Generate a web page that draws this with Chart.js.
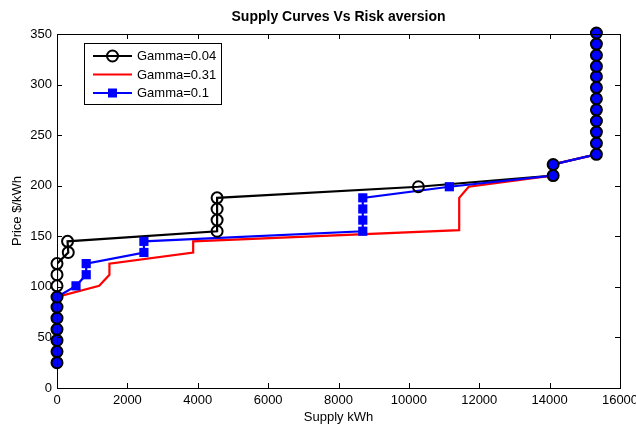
<!DOCTYPE html>
<html>
<head>
<meta charset="utf-8">
<script src="https://cdn.jsdelivr.net/npm/chart.js@4.4.0/dist/chart.umd.min.js"></script>
<style>
  html, body { margin: 0; padding: 0; background: #fff; }
</style>
</head>
<body>
<canvas id="chart" width="636" height="426"></canvas>
<script>
// data
const seriesNames = ['Gamma=0.04', 'Gamma=0.31', 'Gamma=0.1'];

const blackX = [0, 0, 0, 0, 0, 0, 0, 0, 0, 0, 320, 300, 4550, 4550, 4550, 4550, 10270, 14100, 14100,
  15330, 15330, 15330, 15330, 15330, 15330, 15330, 15330, 15330, 15330, 15330, 15330];
const blackY = [25, 36, 47, 58, 69, 80, 90, 101, 112, 123, 134, 145, 155, 166, 177, 188, 199, 210, 221,
  231, 242, 253, 264, 275, 286, 297, 308, 318, 329, 340, 351];

const redX = [0, 0, 0, 0, 0, 0, 0, 1200, 1490, 1490, 3870, 3870, 11430, 11430, 11700, 14100, 14100,
  15330, 15330, 15330, 15330, 15330, 15330, 15330, 15330, 15330, 15330, 15330, 15330];
const redY = [25, 36, 47, 58, 69, 80, 90, 101, 112, 123, 134, 145, 156, 188, 199, 210, 221,
  231, 242, 253, 264, 275, 286, 297, 308, 318, 329, 340, 351];

const blueX = [0, 0, 0, 0, 0, 0, 0, 540, 830, 830, 2470, 2470, 8690, 8690, 8690, 8690, 11150, 14100, 14100,
  15330, 15330, 15330, 15330, 15330, 15330, 15330, 15330, 15330, 15330, 15330, 15330];
const blueY = [25, 36, 47, 58, 69, 80, 90, 101, 112, 123, 134, 145, 155, 166, 177, 188, 199, 210, 221,
  231, 242, 253, 264, 275, 286, 297, 308, 318, 329, 340, 351];

const xTicks = [0, 2000, 4000, 6000, 8000, 10000, 12000, 14000, 16000];
const yTicks = [0, 50, 100, 150, 200, 250, 300, 350];

const FONT = "'Liberation Sans', Arial, Helvetica, sans-serif";

const toPts = (xs, ys) => xs.map((x, i) => ({ x: x, y: ys[i] }));
const inSet = (x, y, xs, ys) => xs.some((v, i) => v === x && ys[i] === y);

// black markers that sit on blue points get a blue face
const blackFace = blackX.map((x, i) => inSet(x, blackY[i], blueX, blueY) ? '#0000ff' : 'rgba(0,0,0,0)');
const blueRadius = blueX.map((x, i) => inSet(x, blueY[i], blackX, blackY) ? 0 : 6.5);

const framePlugin = {
  id: 'frame',
  afterDraw(chart) {
    const ctx = chart.ctx;
    const a = chart.chartArea;
    const xs = chart.scales.x, ys = chart.scales.y;
    ctx.save();
    ctx.strokeStyle = '#000';
    ctx.lineWidth = 1;
    ctx.strokeRect(Math.round(a.left) + 0.5, Math.round(a.top) + 0.5,
      Math.round(a.right - a.left), Math.round(a.bottom - a.top));
    ctx.beginPath();
    xTicks.forEach(v => {
      const px = Math.round(xs.getPixelForValue(v)) + 0.5;
      ctx.moveTo(px, a.bottom); ctx.lineTo(px, a.bottom - 5);
      ctx.moveTo(px, a.top); ctx.lineTo(px, a.top + 5);
    });
    yTicks.forEach(v => {
      const py = Math.round(ys.getPixelForValue(v)) + 0.5;
      ctx.moveTo(a.left, py); ctx.lineTo(a.left + 5, py);
      ctx.moveTo(a.right, py); ctx.lineTo(a.right - 5, py);
    });
    ctx.stroke();

    // title
    ctx.fillStyle = '#000';
    ctx.font = 'bold 14px ' + FONT;
    ctx.textAlign = 'center';
    ctx.textBaseline = 'middle';
    ctx.fillText('Supply Curves Vs Risk aversion', (a.left + a.right) / 2, 17);

    // legend
    const lx = 84, ly = 43, lw = 137, lh = 61;
    ctx.fillStyle = '#fff';
    ctx.fillRect(lx, ly, lw, lh);
    ctx.strokeStyle = '#000';
    ctx.strokeRect(lx + 0.5, ly + 0.5, lw, lh);
    const colors = ['#000000', '#ff0000', '#0000ff'];
    const rows = [56, 74.5, 93];
    ctx.font = '13px ' + FONT;
    ctx.textAlign = 'left';
    rows.forEach((y, i) => {
      ctx.strokeStyle = colors[i];
      ctx.lineWidth = 2.2;
      ctx.beginPath();
      ctx.moveTo(93, y); ctx.lineTo(132, y);
      ctx.stroke();
      if (i === 0) {
        ctx.lineWidth = 2;
        ctx.beginPath();
        ctx.arc(112.5, y, 5.5, 0, Math.PI * 2);
        ctx.stroke();
      } else if (i === 2) {
        ctx.fillStyle = colors[i];
        ctx.fillRect(112.5 - 4.5, y - 4.5, 9, 9);
      }
      ctx.fillStyle = '#000';
      ctx.fillText(seriesNames[i], 137, y + 0.5);
    });
    ctx.restore();
  }
};

new Chart(document.getElementById('chart'), {
  type: 'line',
  data: {
    datasets: [
      {
        label: seriesNames[0] + ' markers',
        data: toPts(blackX, blackY),
        showLine: false,
        pointStyle: 'circle',
        pointRadius: 5.5,
        pointBorderWidth: 2,
        pointBorderColor: '#000',
        pointBackgroundColor: blackFace,
        clip: false,
        order: 0
      },
      {
        label: seriesNames[2],
        data: toPts(blueX, blueY),
        borderColor: '#0000ff',
        borderWidth: 2.2,
        pointStyle: 'rect',
        pointRadius: blueRadius,
        pointBorderWidth: 0,
        pointBackgroundColor: '#0000ff',
        clip: false,
        order: 1
      },
      {
        label: seriesNames[1],
        data: toPts(redX, redY),
        borderColor: '#ff0000',
        borderWidth: 2.2,
        pointRadius: 0,
        order: 2
      },
      {
        label: seriesNames[0],
        data: toPts(blackX, blackY),
        borderColor: '#000000',
        borderWidth: 2.2,
        pointRadius: 0,
        order: 3
      }
    ]
  },
  options: {
    responsive: false,
    animation: false,
    events: [],
    layout: { padding: { top: 34, right: 16, left: 0, bottom: 0 } },
    plugins: {
      legend: { display: false },
      title: { display: false },
      tooltip: { enabled: false }
    },
    elements: { line: { tension: 0 } },
    scales: {
      x: {
        type: 'linear',
        min: 0,
        max: 16000,
        grid: { display: false, drawTicks: false, tickLength: 0 },
        border: { display: true, color: '#000', width: 1 },
        afterBuildTicks: s => { s.ticks = xTicks.map(v => ({ value: v })); },
        afterFit: s => { s.height = 38; s.paddingLeft = 0; s.paddingRight = 0; },
        ticks: {
          color: '#000',
          padding: 5,
          maxRotation: 0,
          font: { family: FONT, size: 13 },
          callback: v => String(v)
        },
        title: {
          display: true,
          text: 'Supply kWh',
          color: '#000',
          font: { family: FONT, size: 13 },
          padding: { top: 0, bottom: 1 }
        }
      },
      y: {
        type: 'linear',
        min: 0,
        max: 350,
        grid: { display: false, drawTicks: false, tickLength: 0 },
        border: { display: true, color: '#000', width: 1 },
        afterBuildTicks: s => { s.ticks = yTicks.map(v => ({ value: v })); },
        afterFit: s => { s.width = 57; },
        ticks: {
          color: '#000',
          padding: 5,
          font: { family: FONT, size: 13 },
          callback: v => String(v)
        },
        title: {
          display: true,
          text: 'Price $/kWh',
          color: '#000',
          font: { family: FONT, size: 13 },
          padding: { top: 10, bottom: 0 }
        }
      }
    }
  },
  plugins: [framePlugin]
});
</script>
</body>
</html>
